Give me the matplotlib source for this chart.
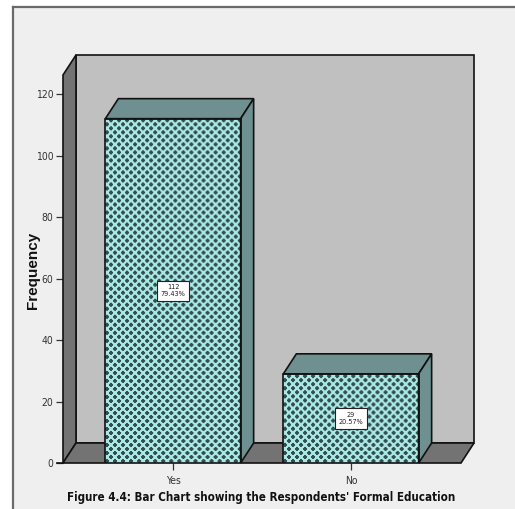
import numpy as np
import matplotlib.pyplot as plt
from matplotlib.patches import Polygon, Rectangle
from matplotlib.lines import Line2D
from matplotlib import font_manager

# survey answers
categories = ["Yes", "No"]
counts = [112, 29]
percents = ["79.43%", "20.57%"]

yticks = [0, 20, 40, 60, 80, 100, 120]
title = "Figure 4.4: Bar Chart showing the Respondents' Formal Education"

# narrow font if one is around, else plain Liberation Sans
fonts = font_manager.fontManager.ttflist
narrow, stretch, tsize = "Liberation Sans", "normal", 8.8
if any(f.name == "Liberation Sans Narrow" for f in fonts):
    narrow, stretch, tsize = "Liberation Sans Narrow", "normal", 10.5
elif any(f.name == "DejaVu Sans" and f.stretch == "condensed" for f in fonts):
    narrow, stretch, tsize = "DejaVu Sans", "condensed", 8.3

W, H = 515, 509
fig = plt.figure(figsize=(W / 100, H / 100), dpi=100, facecolor="white")

# panel background and its frame (left and top edges only)
fig.patches.append(Rectangle((13 / W, 0), 1 - 13 / W, 1 - 7 / H, transform=fig.transFigure,
                             facecolor="#efefef", edgecolor="none", zorder=-5))
fig.lines.append(Line2D([13 / W, 13 / W], [0, 1 - 7 / H], transform=fig.transFigure,
                        color="#6a6a6a", lw=1.6, zorder=-4))
fig.lines.append(Line2D([13 / W, 1], [1 - 7 / H, 1 - 7 / H], transform=fig.transFigure,
                        color="#6a6a6a", lw=1.6, zorder=-4))

ax = fig.add_axes([63 / W, 46 / H, 398 / W, 388 / H])
ax.set_facecolor("none")
xmin, xmax = -0.618, 1.618
ymax = 126.2
ax.set_xlim(xmin, xmax)
ax.set_ylim(0, ymax)

# depth of the 3d box in data units
dx = 13 * (xmax - xmin) / 398
dy = 20 * ymax / 388

wall = "#c0c0c0"
side = "#737373"
ec = "#111111"

# back wall, left wall, floor
ax.add_patch(Polygon([(xmin + dx, dy), (xmax + dx, dy), (xmax + dx, ymax + dy), (xmin + dx, ymax + dy)],
                     closed=True, facecolor=wall, edgecolor=ec, lw=1.2, clip_on=False, zorder=1))
ax.add_patch(Polygon([(xmin, 0), (xmin + dx, dy), (xmin + dx, ymax + dy), (xmin, ymax)],
                     closed=True, facecolor=side, edgecolor=ec, lw=1.2, clip_on=False, zorder=2))
ax.add_patch(Polygon([(xmin, 0), (xmax, 0), (xmax + dx, dy), (xmin + dx, dy)],
                     closed=True, facecolor=side, edgecolor=ec, lw=1.2, clip_on=False, zorder=2))

# texture tile: dark plus signs on light cyan, staggered rows
tile = np.zeros((8, 8, 3))
tile[:, :] = np.array([170, 232, 228]) / 255
dark = np.array([50, 78, 80]) / 255
for cy, cx in [(2, 2), (6, 6)]:
    for k in range(-2, 2):
        for t in (-1, 0):
            tile[(cy + t) % 8, (cx + k) % 8] = dark
            tile[(cy + k) % 8, (cx + t) % 8] = dark

top_c = "#6f9090"
bw = 0.76
px_x = 398 / (xmax - xmin)
px_y = 388 / ymax
for i, (cat, n, pct) in enumerate(zip(categories, counts, percents)):
    x0, x1 = i - bw / 2, i + bw / 2
    front = Rectangle((x0, 0), bw, n, facecolor="none", edgecolor=ec, lw=1.2, zorder=5)
    ax.add_patch(front)
    nx = int(np.ceil(bw * px_x / 8))
    ny = int(np.ceil(n * px_y / 8))
    tex = np.tile(tile, (ny, nx, 1))
    im = ax.imshow(tex, extent=(x0, x0 + nx * 8 / px_x, 0, ny * 8 / px_y), origin="lower",
                   interpolation="antialiased", aspect="auto", zorder=4)
    im.set_clip_path(front)
    ax.add_patch(Polygon([(x0, n), (x1, n), (x1 + dx, n + dy), (x0 + dx, n + dy)], closed=True,
                         facecolor=top_c, edgecolor=ec, lw=1.2, clip_on=False, zorder=4))
    ax.add_patch(Polygon([(x1, 0), (x1 + dx, dy), (x1 + dx, n + dy), (x1, n)], closed=True,
                         facecolor=top_c, edgecolor=ec, lw=1.2, clip_on=False, zorder=4))
    ax.text(i, n / 2, f"{n}\n{pct}", ha="center", va="center", fontsize=5.2,
            family=narrow, stretch=stretch, color="#222222", linespacing=1.2, zorder=6,
            bbox=dict(boxstyle="square,pad=0.5", facecolor="white", edgecolor="#222222", lw=0.8))

ax.set_xlim(xmin, xmax)
ax.set_ylim(0, ymax)
for s in ax.spines.values():
    s.set_visible(False)
ax.set_yticks(yticks)
ax.set_xticks(range(len(categories)))
ax.set_xticklabels(categories)
ax.tick_params(axis="both", direction="out", length=5, width=0.9, color="#333333",
               labelsize=7.5, labelcolor="#333333")
ax.tick_params(axis="x", pad=4)
ax.tick_params(axis="y", pad=2)
for lab in ax.get_xticklabels() + ax.get_yticklabels():
    lab.set_family(narrow)
    lab.set_stretch(stretch)
ax.plot([xmin - 6 / px_x, xmin], [0, 0], color=ec, lw=1.2, clip_on=False, zorder=3)

fig.text(33 / W, 1 - 270 / H, "Frequency", rotation=90, ha="center", va="center",
         fontsize=11, fontweight="bold", family="Liberation Sans", color="#111111")
fig.text(261 / W, 1 - 498 / H, title, ha="center", va="center", fontsize=tsize,
         fontweight="bold", family=narrow, stretch=stretch, color="#111111")

fig.savefig("out.png", dpi=100, facecolor=fig.get_facecolor())
